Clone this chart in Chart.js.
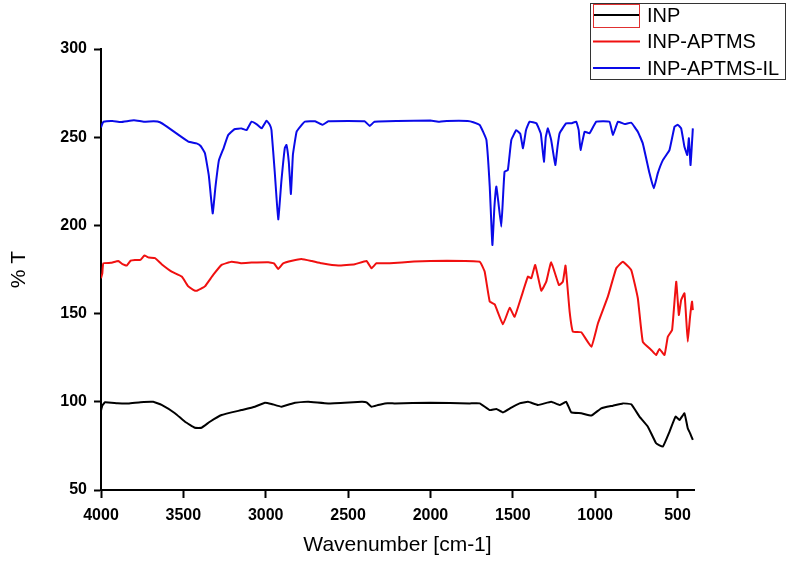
<!DOCTYPE html>
<html>
<head>
<meta charset="utf-8">
<script src="https://cdn.jsdelivr.net/npm/chart.js@4/dist/chart.umd.min.js"></script>
<style>
  html, body { margin: 0; padding: 0; background: #fff; }
  #wrap { position: relative; width: 790px; height: 566px; }
</style>
</head>
<body>
<div id="wrap"><canvas id="ftirChart" width="790" height="566"></canvas></div>
<script>
"use strict";
// wavenumbers (cm-1) and %T values
var inpWave = [4000, 3992, 3976, 3900, 3834, 3760, 3683, 3632, 3551, 3490, 3430, 3389, 3339, 3268, 3147, 3066, 3005, 2965, 2904, 2823, 2742, 2621, 2419, 2388, 2358, 2318, 2277, 2217, 2000, 1762, 1701, 1640, 1600, 1560, 1509, 1459, 1408, 1347, 1267, 1216, 1176, 1145, 1084, 1023, 963, 892, 832, 781, 731, 680, 630, 589, 549, 512, 488, 458, 438, 424, 407];
var inpT = [95, 97.8, 99.7, 99.2, 99.1, 99.8, 100, 98.2, 93.5, 88.7, 85.3, 85.3, 88.7, 92.5, 95.3, 97.2, 99.5, 98.8, 97.2, 99.5, 100, 99.1, 100, 99.7, 97.2, 98.2, 99.1, 99.1, 99.4, 99.1, 99.1, 95.3, 95.9, 94, 96.7, 99.1, 100, 98.2, 100, 98.2, 100, 94, 93.5, 92.2, 96.3, 97.8, 99.1, 98.6, 91.6, 85.9, 76.5, 74.6, 83, 91.6, 89.7, 93.5, 85, 82.2, 78.4];

var aptmsWave = [4000, 3992, 3986, 3940, 3895, 3870, 3844, 3820, 3794, 3760, 3737, 3710, 3672, 3632, 3571, 3510, 3470, 3440, 3420, 3395, 3369, 3319, 3268, 3207, 3150, 3086, 2985, 2950, 2924, 2894, 2840, 2783, 2720, 2661, 2560, 2459, 2388, 2358, 2328, 2247, 2100, 1900, 1701, 1671, 1640, 1610, 1560, 1519, 1489, 1448, 1408, 1388, 1364, 1327, 1297, 1267, 1220, 1196, 1180, 1155, 1135, 1084, 1023, 983, 923, 872, 832, 781, 741, 711, 660, 630, 610, 579, 559, 533, 508, 492, 478, 458, 448, 438, 424, 412, 407];
var aptmsT = [170, 172.8, 178.5, 178.8, 179.8, 178, 177.2, 180, 180.4, 180.5, 182.9, 181.8, 181.4, 178, 173.8, 171, 165.4, 163.5, 162.9, 164, 165.4, 171.9, 177.6, 179.4, 178.6, 178.9, 179.1, 178.5, 175.3, 178.5, 180, 181, 179.8, 178.5, 177.2, 178, 179.8, 175.7, 178.5, 178.5, 179.5, 180, 179.4, 173.8, 156.8, 155.3, 143.9, 153.3, 148.2, 159.6, 171, 170, 177.6, 163, 168.1, 179.1, 166.2, 168.1, 177.2, 151.1, 139.7, 139.4, 131.2, 144.5, 159.6, 175.7, 179.4, 174.7, 158.7, 134.1, 129.4, 126.5, 130, 126.5, 136.9, 140.7, 168.1, 149.2, 157.7, 161.5, 148.2, 134.1, 148.2, 156.8, 152];

var ilWave = [4000, 3992, 3985, 3930, 3880, 3800, 3740, 3680, 3642, 3600, 3540, 3470, 3420, 3395, 3369, 3345, 3322, 3305, 3284, 3255, 3228, 3190, 3147, 3116, 3086, 3050, 3025, 2995, 2975, 2965, 2945, 2924, 2905, 2884, 2874, 2860, 2847, 2835, 2813, 2790, 2762, 2700, 2655, 2620, 2500, 2400, 2368, 2340, 2200, 2000, 1944, 1900, 1774, 1740, 1701, 1680, 1660, 1640, 1624, 1612, 1600, 1590, 1570, 1560, 1550, 1530, 1509, 1479, 1455, 1438, 1420, 1398, 1357, 1330, 1311, 1300, 1287, 1267, 1242, 1228, 1216, 1176, 1145, 1115, 1100, 1089, 1064, 1034, 993, 913, 892, 862, 820, 781, 741, 711, 670, 644, 620, 589, 549, 518, 498, 478, 458, 441, 431, 421, 407];
var ilT = [255.5, 257.5, 258.8, 259.2, 258.6, 259.6, 258.8, 259, 258.5, 256, 252, 247.5, 246.5, 245, 240.9, 228, 206.8, 222, 237, 244, 251.2, 254.5, 255, 254, 258.8, 257, 255, 259.4, 257, 254, 230, 203.4, 225, 244, 245.6, 236, 217.8, 240, 253, 256, 258.8, 259, 257, 259, 259.2, 259, 256.4, 258.8, 259.2, 259.4, 258.8, 259.2, 259.2, 258.5, 256.9, 253, 248.4, 222, 188.9, 210, 222, 215, 199.3, 215, 230.4, 231.4, 248.4, 254, 252, 243.7, 254, 258.8, 257.9, 252, 236.1, 250, 255, 248.4, 234.2, 245, 252.2, 257.9, 257.9, 258.8, 254, 242.7, 253.1, 252.2, 258.8, 258.8, 251.2, 258.8, 257.5, 258.2, 253.1, 246.5, 229.5, 221, 229.5, 237, 242.7, 256, 257, 255, 244.6, 239.9, 249.4, 234.2, 255];

var seriesNames = ["INP", "INP-APTMS", "INP-APTMS-IL"];
var xTickValues = [4000, 3500, 3000, 2500, 2000, 1500, 1000, 500];

function toPoints(xs, ys) {
  return xs.map(function (x, i) { return { x: x, y: ys[i] }; });
}

var lineColors = ["#000000", "#f01010", "#0a0ae8"];
var labelFont = "'Liberation Sans', Arial, sans-serif";

// legend box drawn in the top-right corner like the original
var boxLegend = {
  id: "boxLegend",
  afterDraw: function (chart) {
    var ctx = chart.ctx;
    var left = 590, top = 3, width = 195, height = 76;
    ctx.save();
    ctx.fillStyle = "#fff";
    ctx.fillRect(left, top, width, height);
    ctx.strokeStyle = "#333";
    ctx.lineWidth = 1;
    ctx.strokeRect(left + 0.5, top + 0.5, width, height);
    ctx.font = "20px " + labelFont;
    ctx.textBaseline = "middle";
    chart.data.datasets.forEach(function (ds, i) {
      var rowY = 15 + i * 26.5;
      ctx.strokeStyle = ds.borderColor;
      ctx.lineWidth = 2;
      ctx.beginPath();
      ctx.moveTo(593, rowY);
      ctx.lineTo(640, rowY);
      ctx.stroke();
      ctx.fillStyle = "#000";
      ctx.fillText(ds.label, 647, rowY + 1);
    });
    // the stray red frame around the first sample line
    ctx.strokeStyle = "#e03030";
    ctx.lineWidth = 1;
    ctx.strokeRect(593.5, 4.5, 46, 23);
    ctx.restore();
  }
};

var plainNumber = function (value) { return String(value); };

new Chart(document.getElementById("ftirChart"), {
  type: "line",
  data: {
    datasets: [
      { label: seriesNames[0], data: toPoints(inpWave, inpT), borderColor: lineColors[0] },
      { label: seriesNames[1], data: toPoints(aptmsWave, aptmsT), borderColor: lineColors[1] },
      { label: seriesNames[2], data: toPoints(ilWave, ilT), borderColor: lineColors[2] }
    ]
  },
  options: {
    responsive: false,
    animation: false,
    layout: { padding: { top: 49, right: 96, left: 0, bottom: 0 } },
    elements: {
      line: { borderWidth: 2, tension: 0.1 },
      point: { radius: 0 }
    },
    plugins: { legend: { display: false }, tooltip: { enabled: false } },
    scales: {
      x: {
        type: "linear",
        reverse: true,
        min: 400,
        max: 4000,
        afterBuildTicks: function (scale) {
          scale.ticks = xTickValues.map(function (v) { return { value: v }; });
        },
        afterFit: function (scale) { scale.height = 76; },
        grid: { drawOnChartArea: false, drawTicks: true, tickLength: 8, tickColor: "#000", tickWidth: 2 },
        border: { color: "#000", width: 2 },
        ticks: { color: "#000", padding: 8, maxRotation: 0, callback: plainNumber, font: { family: labelFont, size: 16, weight: "bold" } },
        title: { display: true, text: "Wavenumber [cm-1]", color: "#000", padding: { top: 0, bottom: 8 }, font: { family: labelFont, size: 21 } }
      },
      y: {
        min: 50,
        max: 300,
        afterFit: function (scale) { scale.width = 101; },
        grid: { drawOnChartArea: false, drawTicks: true, tickLength: 7, tickColor: "#000", tickWidth: 2 },
        border: { color: "#000", width: 2 },
        ticks: { color: "#000", stepSize: 50, padding: 7, callback: plainNumber, font: { family: labelFont, size: 16, weight: "bold" } },
        title: { display: true, text: "% T", color: "#000", padding: { top: 7, bottom: 0 }, font: { family: labelFont, size: 21 } }
      }
    }
  },
  plugins: [boxLegend]
});
</script>
</body>
</html>
